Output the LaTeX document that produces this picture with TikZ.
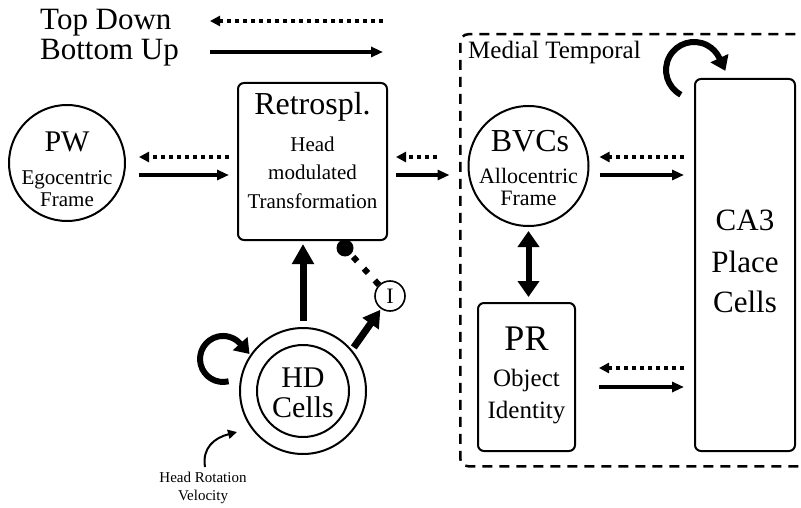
\documentclass[tikz,border=0pt]{standalone}
\usepackage{fontspec}
\setmainfont{Liberation Serif}
\usetikzlibrary{arrows.meta,calc}
\newcommand\fsz[1]{\fontsize{#1}{#1}\selectfont}
\begin{document}
\begin{tikzpicture}[x=1pt,y=-1pt,
  tdarrow/.style={line width=3.5pt, dash pattern=on 4pt off 4pt, -{Triangle[length=10pt,width=10pt]}},
  buarrow/.style={line width=3.5pt, -{Triangle[length=12pt,width=10pt]}},
  bigarrow/.style={line width=7pt, -{Triangle[length=20pt,width=21pt]}},
  dblarrow/.style={line width=6pt, {Triangle[length=16pt,width=21pt]}-{Triangle[length=16pt,width=21pt]}},
  loopstyle/.style={line width=6pt, -{Triangle[length=14pt,width=19pt]}},
  inhib/.style={line width=6pt, dash pattern=on 6pt off 10pt},
  box/.style={draw, line width=2pt, rounded corners=6pt},
  cell/.style={draw, line width=2pt, circle, inner sep=0pt},
  txt/.style={anchor=base, inner sep=0pt},
]
\useasboundingbox (0,0) rectangle (801,508);

% legend
\node[txt, anchor=base west, font=\fsz{31}] (tdl) at (40,30) {Top Down};
\node[txt, anchor=base west, font=\fsz{31}] (bul) at (40,60) {Bottom Up};
\coordinate (tdS) at (383,21); \coordinate (tdE) at (210,21);
\coordinate (buS) at (210,52); \coordinate (buE) at (383,52);
\draw[tdarrow] (tdS) -- (tdE);
\draw[buarrow] (buS) -- (buE);

% helper rows
\coordinate (ya) at (0,157); \coordinate (yb) at (0,175);
\coordinate (yc) at (0,368); \coordinate (yd) at (0,387);

% medial temporal frame
\node[draw, line width=2.5pt, dash pattern=on 10pt off 7pt, rounded corners=8pt,
      minimum width=360, minimum height=432, anchor=north west] (mt) at (459,33) {};
\node[txt, anchor=base west, font=\fsz{25}] (mtl) at (468,59) {Medial Temporal};

% PW
\node[cell, minimum size=116] (pw) at (67,163) {};
\node[txt, font=\fsz{30}] (pwt) at (67,152) {PW};
\node[txt, font=\fsz{21}] (pws1) at (67,185) {Egocentric};
\node[txt, font=\fsz{21}] (pws2) at (67,207) {Frame};

% Retrosplenial
\node[box, minimum width=149, minimum height=157] (ret) at (312.5,161.5) {};
\node[txt, font=\fsz{32}] (rett) at (312.5,115) {Retrospl.};
\node[txt, font=\fsz{21}] (rets1) at (312.5,152) {Head};
\node[txt, font=\fsz{21}] (rets2) at (312.5,180) {modulated};
\node[txt, font=\fsz{21}] (rets3) at (312.5,208) {Transformation};

% BVCs
\node[cell, minimum size=120] (bvc) at (528.5,166) {};
\node[txt, font=\fsz{32}] (bvct) at (530,152) {BVCs};
\node[txt, font=\fsz{22}] (bvcs1) at (528.5,183) {Allocentric};
\node[txt, font=\fsz{22}] (bvcs2) at (528.5,205) {Frame};

% PR
\node[box, minimum width=97, minimum height=148] (pr) at (526.5,377) {};
\node[txt, font=\fsz{36}] (prt) at (526.5,350) {PR};
\node[txt, font=\fsz{25}] (prs1) at (526.5,386) {Object};
\node[txt, font=\fsz{25}] (prs2) at (526.5,418) {Identity};

% CA3
\node[box, minimum width=100, minimum height=372] (ca3) at (745,265) {};
\node[txt, font=\fsz{31}] (ca3t) at (745,230) {CA3};
\node[txt, font=\fsz{31}] (ca3s1) at (745,272) {Place};
\node[txt, font=\fsz{31}] (ca3s2) at (745,312) {Cells};

% HD cells
\node[cell, minimum size=126] (hdo) at (303,391) {};
\node[cell, minimum size=92] (hdi) at (303,391) {};
\node[txt, font=\fsz{30}] (hdt) at (303,387) {HD};
\node[txt, font=\fsz{30}] (hds) at (303,417) {Cells};

% inhibitory interneuron
\node[cell, line width=1.6pt, minimum size=30, font=\fsz{22}] (inh) at (390,296) {I};
\node[circle, fill, minimum size=17, inner sep=0pt] (dot) at (345,248) {};

% head rotation velocity
\node[txt, font=\fsz{15}] (hrv1) at (203,482) {Head Rotation};
\node[txt, font=\fsz{15}] (hrv2) at (203,500) {Velocity};
\coordinate (hrvS) at (205,467); \coordinate (hrvE) at (237,432);
\draw[line width=2pt, -{Triangle[length=9pt,width=9pt]}] (hrvS) .. controls (202,448) and (214,438) .. (hrvE);

% connectors
\draw[tdarrow, shorten <=8pt, shorten >=13pt] (ret.west |- ya) -- (pw.east |- ya);
\draw[buarrow, shorten <=13pt, shorten >=8pt] (pw.east |- yb) -- (ret.west |- yb);
\draw[tdarrow, shorten <=31pt, shorten >=8pt] (bvc.west |- ya) -- (ret.east |- ya);
\draw[buarrow, shorten <=8pt, shorten >=18pt] (ret.east |- yb) -- (bvc.west |- yb);
\draw[tdarrow, shorten <=10pt, shorten >=10pt] (ca3.west |- ya) -- (bvc.east |- ya);
\draw[buarrow, shorten <=10pt, shorten >=10pt] (bvc.east |- yb) -- (ca3.west |- yb);
\draw[tdarrow, shorten <=10pt, shorten >=23pt] (ca3.west |- yc) -- (pr.east |- yc);
\draw[buarrow, shorten <=23pt, shorten >=10pt] (pr.east |- yd) -- (ca3.west |- yd);
\draw[dblarrow, shorten <=4pt, shorten >=5pt] (bvc.south) -- (bvc.south |- pr.north);
\draw[bigarrow, shorten <=6pt, shorten >=3pt] (hdo.north) -- (hdo.north |- ret.south);
\draw[bigarrow, -{Triangle[length=17pt,width=19pt]}, shorten <=3pt, shorten >=1pt] (hdo.40) -- (inh.235);
\draw[inhib] (inh.135) -- (dot);

% self loops
\draw[loopstyle] ($(hdo.west)+(-10.4,-9.7)$) arc[start angle=76, end angle=318, radius=23] -- ++(9.4,10.4);
\draw[loopstyle] ($(ca3.north west)+(-13.1,16.7)$) arc[start angle=118, end angle=335, radius=28] -- ++(5.9,12.7);
\end{tikzpicture}
\end{document}
